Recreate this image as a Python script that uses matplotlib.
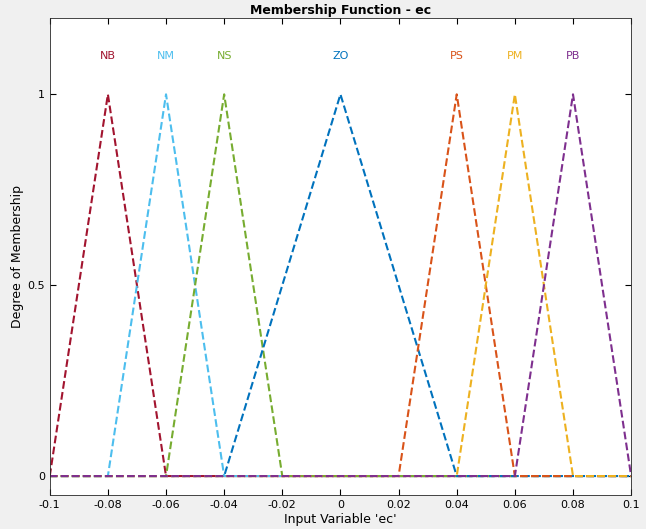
import matplotlib.pyplot as plt
import numpy as np

# membership functions (trimf params)
names = ['NB', 'NM', 'NS', 'ZO', 'PS', 'PM', 'PB']
left = [-0.1, -0.08, -0.06, -0.04, 0.02, 0.04, 0.06]
peak = [-0.08, -0.06, -0.04, 0.0, 0.04, 0.06, 0.08]
right = [-0.06, -0.04, -0.02, 0.04, 0.06, 0.08, 0.1]
colors = ['#a2142f', '#4dbeee', '#77ac30', '#0072bd', '#d95319', '#edb120', '#7e2f8e']

x_range = [-0.1, 0.1]
xticks = [-0.1, -0.08, -0.06, -0.04, -0.02, 0, 0.02, 0.04, 0.06, 0.08, 0.1]
xticklabels = ['-0.1', '-0.08', '-0.06', '-0.04', '-0.02', '0', '0.02', '0.04', '0.06', '0.08', '0.1']

fig = plt.figure(figsize=(6.46, 5.29), dpi=100)
fig.patch.set_facecolor('#f0f0f0')
ax = fig.add_axes([0.077, 0.064, 0.9, 0.902])

# plot each mf over the whole input range
for i in range(len(names)):
    xs = [x_range[0], left[i], peak[i], right[i], x_range[1]]
    ys = [0, 0, 1, 0, 0]
    ax.plot(xs, ys, '--', color=colors[i], linewidth=1.5)
    ax.text(peak[i], 1.1, names[i], color=colors[i], ha='center', va='center', fontsize=8)

ax.set_xlim(x_range)
ax.set_ylim(-0.05, 1.2)
ax.set_xticks(xticks)
ax.set_xticklabels(xticklabels)
ax.set_yticks([0, 0.5, 1])
ax.set_yticklabels(['0', '0.5', '1'])
ax.tick_params(axis='both', direction='in', labelsize=8, top=True, right=True, length=4)
for s in ax.spines.values():
    s.set_color('#262626')
    s.set_linewidth(0.6)

ax.set_title('Membership Function - ec', fontsize=9, fontweight='bold', pad=3)
ax.set_xlabel("Input Variable 'ec'", fontsize=9, labelpad=2)
ax.set_ylabel('Degree of Membership', fontsize=9, labelpad=2)

fig.savefig('out.png', dpi=100, facecolor=fig.get_facecolor())
